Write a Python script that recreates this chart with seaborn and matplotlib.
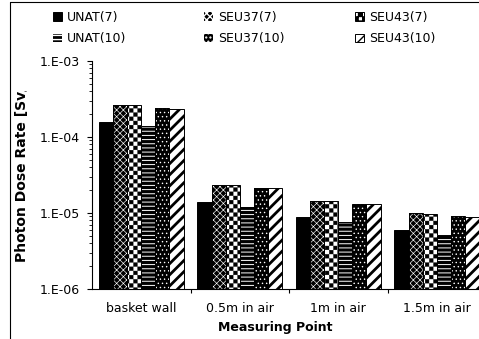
import warnings

import matplotlib
matplotlib.use("Agg")
import matplotlib.pyplot as plt
import numpy as np
import pandas as pd
import seaborn as sns
from matplotlib import hatch as mhatch
from matplotlib.lines import Line2D
from matplotlib.patches import Patch, Rectangle
from matplotlib.path import Path
from matplotlib.ticker import FixedLocator, LogLocator, NullFormatter
from matplotlib.transforms import Bbox, TransformedBbox

warnings.filterwarnings("ignore")

# ---- data -----------------------------------------------------------------
points = ["basket wall", "0.5m in air", "1m in air", "1.5m in air"]
series = ["UNAT(7)", "SEU37(7)", "SEU43(7)", "UNAT(10)", "SEU37(10)", "SEU43(10)"]
unat_7 = [1.58e-4, 1.41e-5, 8.75e-6, 6.0e-6]
seu37_7 = [2.63e-4, 2.33e-5, 1.44e-5, 1.0e-5]
seu43_7 = [2.62e-4, 2.32e-5, 1.42e-5, 9.7e-6]
unat_10 = [1.38e-4, 1.21e-5, 7.7e-6, 5.1e-6]
seu37_10 = [2.38e-4, 2.15e-5, 1.33e-5, 9.2e-6]
seu43_10 = [2.37e-4, 2.12e-5, 1.32e-5, 8.9e-6]
y_ticks = [1e-6, 1e-5, 1e-4, 1e-3]
y_tick_labels = ["1.E-06", "1.E-05", "1.E-04", "1.E-03"]
x_title = "Measuring Point"
y_title = "Photon Dose Rate [Sv/h]"

values = [unat_7, seu37_7, seu43_7, unat_10, seu37_10, seu43_10]
df = pd.DataFrame({
    "point": np.tile(points, len(series)),
    "series": np.repeat(series, len(points)),
    "rate": np.concatenate(values),
})


# ---- checkerboard fill pattern ('c' hatch character) -------------------------
class CheckerHatch(mhatch.HatchPatternBase):
    inset = 0.0

    def __init__(self, hatch, density):
        n = int(hatch.count("c") * density)
        self.cells = n - n % 2
        self.num_vertices = (self.cells * self.cells // 2) * 5

    def set_vertices_and_codes(self, vertices, codes):
        s = 1.0 / self.cells
        d = self.inset
        k = 0
        for i in range(self.cells):
            for j in range(self.cells):
                if (i + j) % 2:
                    continue
                x0, y0 = i * s + d, j * s + d
                x1, y1 = (i + 1) * s - d, (j + 1) * s - d
                vertices[k:k + 5] = [(x0, y0), (x1, y0), (x1, y1), (x0, y1), (x0, y0)]
                codes[k:k + 5] = [Path.MOVETO, Path.LINETO, Path.LINETO,
                                  Path.LINETO, Path.CLOSEPOLY]
                k += 5


CheckerHatch.inset = 0.15 / 72
mhatch._hatch_types.append(CheckerHatch)

# face colour, hatch colour, hatch, hatch line width
styles = {
    "UNAT(7)": ("black", "black", None, 1.0),
    "SEU37(7)": ("black", "white", "xxxxx", 0.45),
    "SEU43(7)": ("white", "black", "cccc", 0.3),
    "UNAT(10)": ("black", "white", "----", 0.7),
    "SEU37(10)": ("black", "white", "....", 0.5),
    "SEU43(10)": ("white", "black", "///", 2.0),
}


def with_hatch_width(artist, lw):
    """Draw the artist with its own hatch line width."""
    if hasattr(artist, "set_hatch_linewidth"):
        artist.set_hatch_linewidth(lw)
    base_draw = artist.draw

    def draw(renderer):
        with plt.rc_context({"hatch.linewidth": lw}):
            base_draw(renderer)

    artist.draw = draw


def apply_style(p, name):
    face, hcol, hatch, hlw = styles[name]
    p.set_facecolor(face)
    p.set_edgecolor(hcol)
    p.set_hatch(hatch)
    p.set_linewidth(0.7 if hcol == "black" else 0.0)
    with_hatch_width(p, hlw)


# ---- figure -----------------------------------------------------------------
sns.set_theme(style="white")
plt.rcParams["font.family"] = ["DejaVu Sans"]
plt.rcParams["text.color"] = "black"
plt.rcParams["axes.labelcolor"] = "black"
plt.rcParams["xtick.color"] = "black"
plt.rcParams["ytick.color"] = "black"

W, H = 479, 339
fig = plt.figure(figsize=(W / 100, H / 100), dpi=100)
fig.patch.set_facecolor("white")
ax = fig.add_axes([92 / W, 50 / H, 394 / W, 228 / H])
ax.set_yscale("log")

sns.barplot(data=df, x="point", y="rate", hue="series", order=points,
            hue_order=series, palette=["white"] * len(series), width=0.86,
            legend=False, ax=ax)

for cont, name in zip(ax.containers, series):
    for p in cont.patches:
        apply_style(p, name)
        if styles[name][1] == "white":
            ax.add_patch(Rectangle(p.get_xy(), p.get_width(), p.get_height(),
                                   fill=False, edgecolor="black", linewidth=0.7,
                                   zorder=p.get_zorder() + 0.1))

ax.set_ylim(y_ticks[0], y_ticks[-1])
ax.set_xlim(-0.5, len(points) - 0.5)
ax.yaxis.set_major_locator(FixedLocator(y_ticks))
ax.set_yticklabels(y_tick_labels)
ax.yaxis.set_minor_locator(LogLocator(base=10, subs=np.arange(2, 10)))
ax.yaxis.set_minor_formatter(NullFormatter())
ax.tick_params(axis="y", which="major", direction="out", length=3.6, width=0.8,
               pad=5, labelsize=9, left=True)
ax.tick_params(axis="y", which="minor", direction="out", length=2.2, width=0.6,
               left=True)
ax.xaxis.set_minor_locator(FixedLocator(np.arange(0.5, len(points) - 0.5, 1.0)))
ax.tick_params(axis="x", which="major", length=0, pad=9.5, labelsize=9)
ax.tick_params(axis="x", which="minor", direction="out", length=3, width=0.8,
               bottom=True)
ax.set_xlabel("")
ax.set_ylabel("")
for side in ("top", "right"):
    ax.spines[side].set_visible(False)
for side in ("left", "bottom"):
    ax.spines[side].set_color("black")
    ax.spines[side].set_linewidth(0.8)

# axis titles
fig.text(275 / W, 1 - 327 / H, x_title, ha="center", va="center",
         fontsize=9, fontweight="bold")
yt = fig.text(22 / W, 1 - 262 / H, y_title, rotation=90, ha="center", va="bottom",
              fontsize=10, fontweight="bold")
yt.set_clip_box(TransformedBbox(Bbox.from_extents(0, 0, 1, 1 - 91 / H),
                                fig.transFigure))
yt.set_clip_on(True)

# legend: three columns, two rows
handles = {}
for name in series:
    h = Patch(label=name)
    apply_style(h, name)
    handles[name] = h
columns = [(53, [series[0], series[3]]),
           (204, [series[1], series[4]]),
           (355, [series[2], series[5]])]
for x0, names in columns:
    fig.legend([handles[n] for n in names], names, loc="upper left",
               bbox_to_anchor=(x0 / W, 1 - 11 / H), bbox_transform=fig.transFigure,
               frameon=False, fontsize=9, borderpad=0, borderaxespad=0,
               handlelength=0.75, handleheight=0.65, handletextpad=0.4,
               labelspacing=0.65)

# chart frame
fig.add_artist(Line2D([10 / W, 10 / W], [0, 1 - 2 / H], color="black",
                      linewidth=0.8, transform=fig.transFigure))
fig.add_artist(Line2D([10 / W, 1], [1 - 2 / H, 1 - 2 / H], color="black",
                      linewidth=0.8, transform=fig.transFigure))

fig.savefig("out.png", dpi=100, facecolor="white")
